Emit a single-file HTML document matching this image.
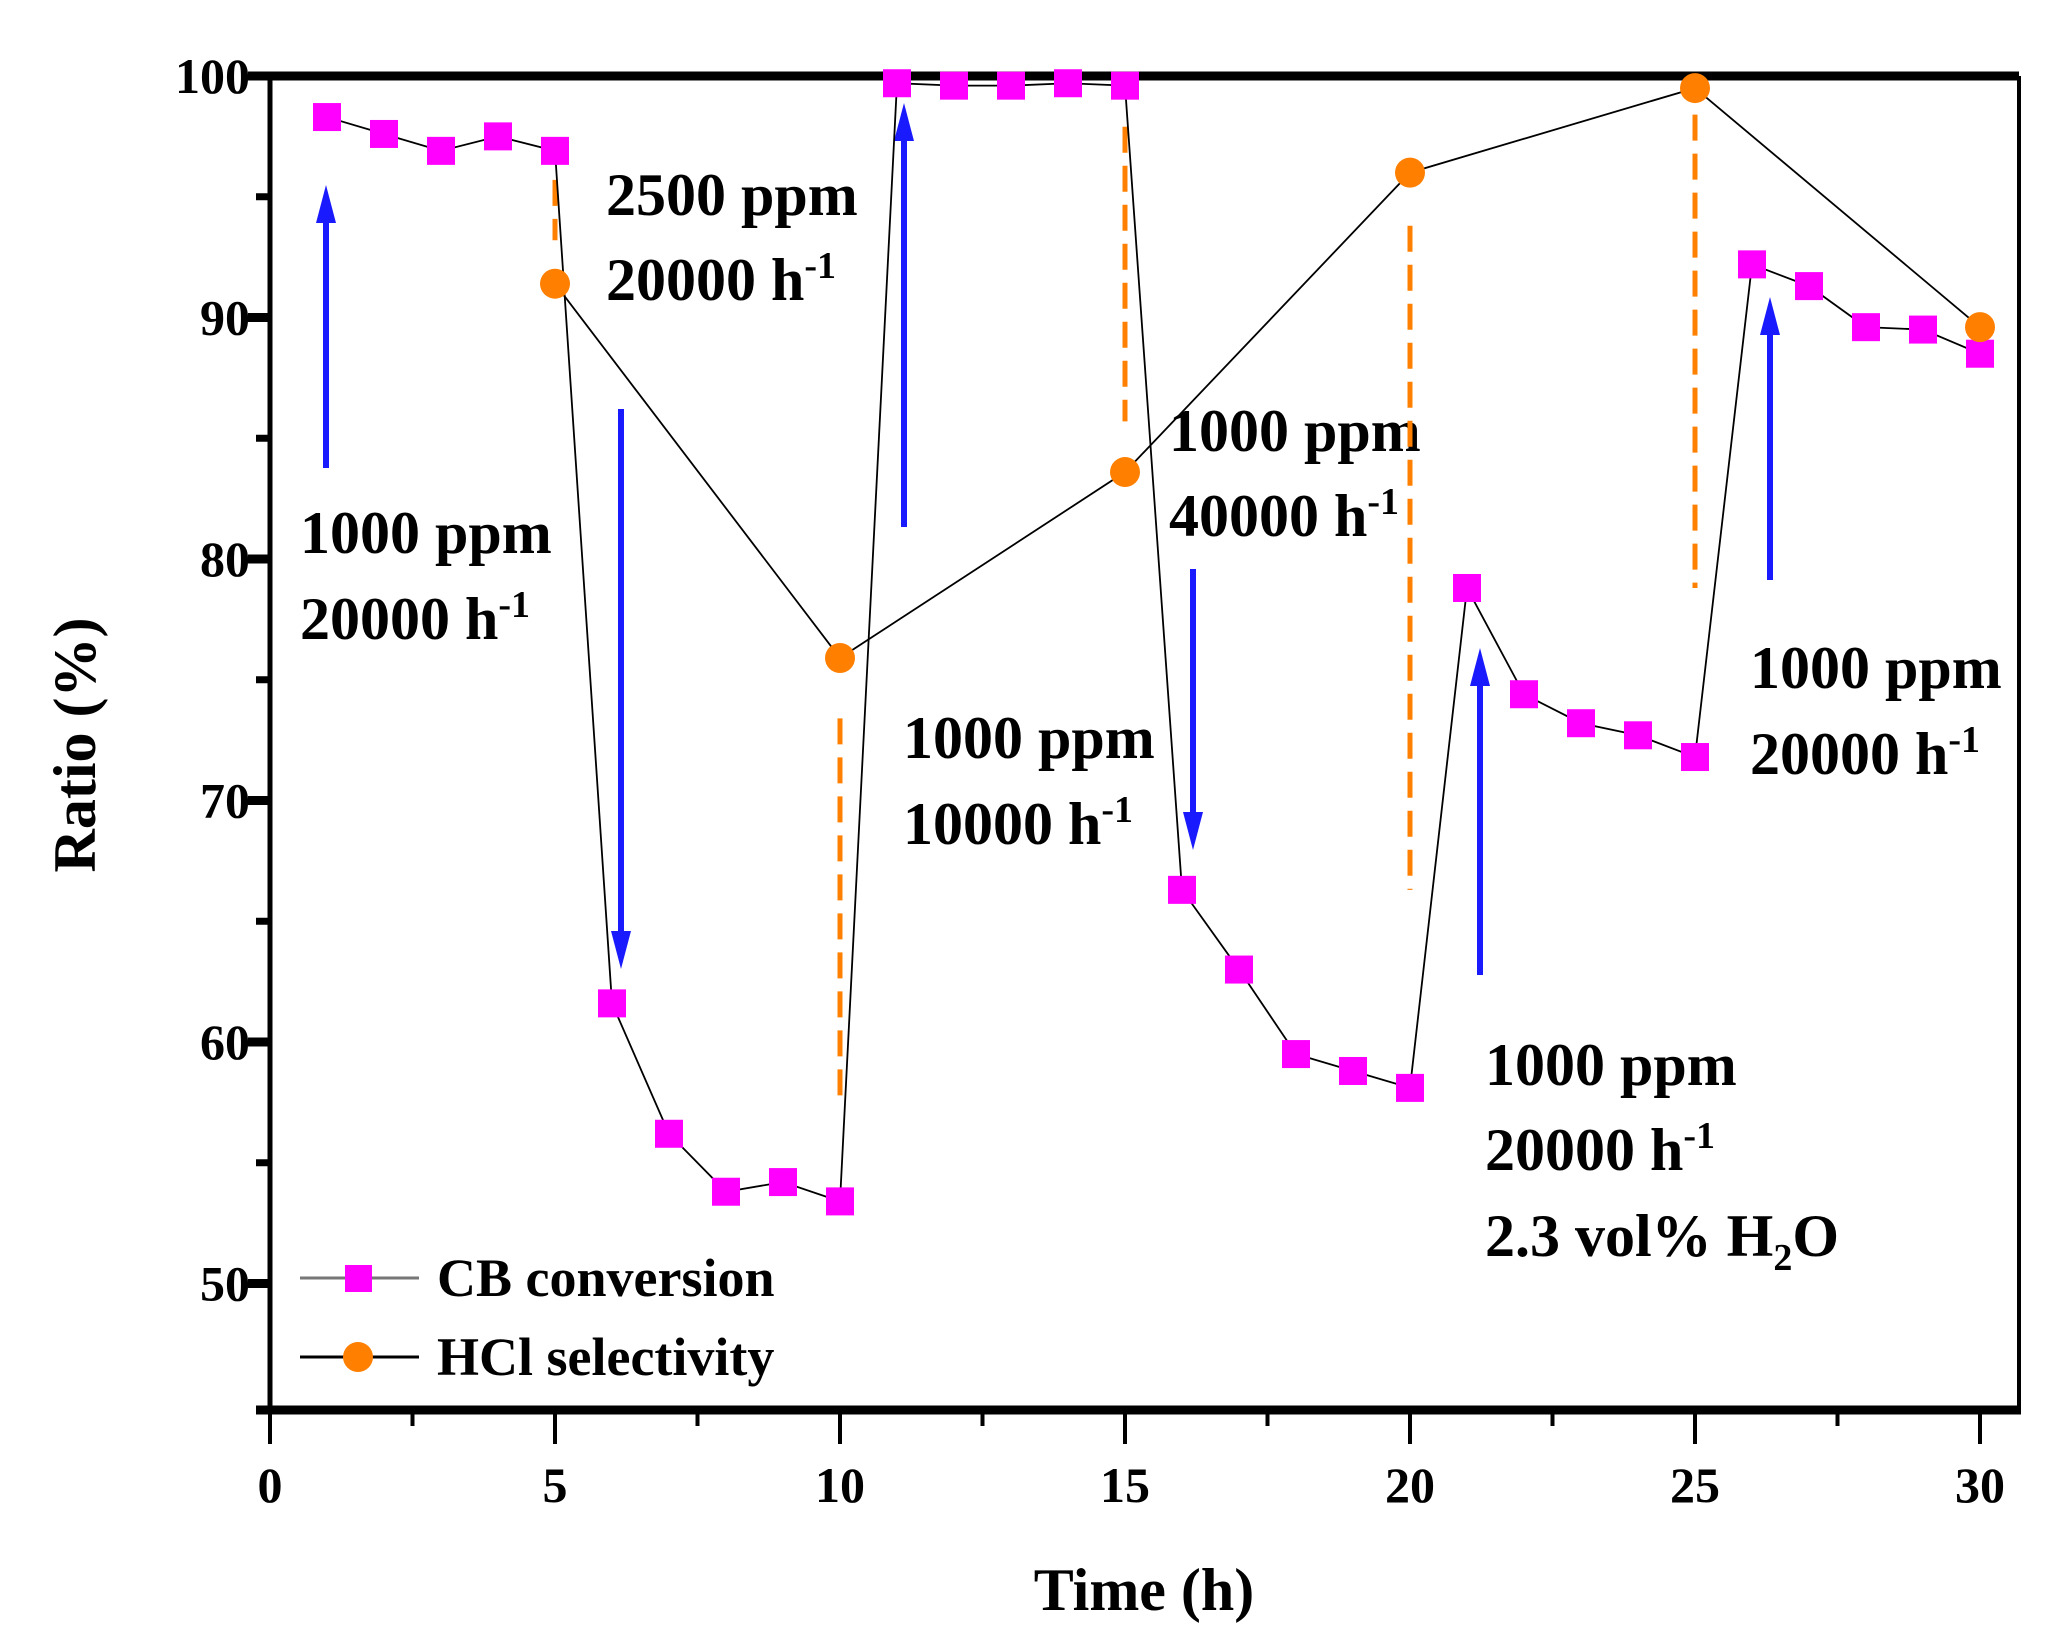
<!DOCTYPE html>
<html><head><meta charset="utf-8"><style>
html,body{margin:0;padding:0;background:#fff;}
svg{display:block;font-family:"Liberation Serif",serif;font-weight:bold;}
</style></head><body>
<svg id="chart" width="2056" height="1637" viewBox="0 0 2056 1637" xmlns="http://www.w3.org/2000/svg">
<g id="annot" font-size="60" fill="#000">
<text x="300" y="553">1000 ppm</text>
<text x="300" y="639">20000 h<tspan font-size="38" dy="-22">-1</tspan></text>
<text x="606" y="215">2500 ppm</text>
<text x="606" y="300">20000 h<tspan font-size="38" dy="-22">-1</tspan></text>
<text x="903" y="758">1000 ppm</text>
<text x="903" y="844">10000 h<tspan font-size="38" dy="-22">-1</tspan></text>
<text x="1169" y="451">1000 ppm</text>
<text x="1169" y="536">40000 h<tspan font-size="38" dy="-22">-1</tspan></text>
<text x="1750" y="688">1000 ppm</text>
<text x="1750" y="774">20000 h<tspan font-size="38" dy="-22">-1</tspan></text>
<text x="1485" y="1085">1000 ppm</text>
<text x="1485" y="1170">20000 h<tspan font-size="38" dy="-22">-1</tspan></text>
<text x="1485" y="1256">2.3 vol% H<tspan font-size="38" dy="14">2</tspan><tspan dy="-14">O</tspan></text>
</g>
<g id="axes"></g>
<g id="marks"></g>
<text x="1144" y="1610" font-size="60" text-anchor="middle">Time (h)</text>
<text transform="translate(95,745) rotate(-90)" font-size="60" text-anchor="middle">Ratio (%)</text>
<g font-size="54">
<line x1="300" y1="1278" x2="419" y2="1278" stroke="#777" stroke-width="3"/>
<rect x="345" y="1265" width="27" height="27" fill="#ff00ff"/>
<text x="437" y="1296">CB conversion</text>
<line x1="300" y1="1357" x2="419" y2="1357" stroke="#000" stroke-width="3"/>
<circle cx="358" cy="1357" r="15" fill="#ff8000"/>
<text x="437" y="1375">HCl selectivity</text>
</g>
</svg>
<script>
const cbTimes = [1,2,3,4,5,6,7,8,9,10,11,12,13,14,15,16,17,18,19,20,21,22,23,24,25,26,27,28,29,30];
const cbValues = [98.3,97.6,96.9,97.5,96.9,61.6,56.2,53.8,54.2,53.4,99.7,99.6,99.6,99.7,99.6,66.3,63.0,59.5,58.8,58.1,78.8,74.4,73.2,72.7,71.8,92.2,91.3,89.6,89.5,88.5];
const hclTimes = [5,10,15,20,25,30];
const hclValues = [91.4,75.9,83.6,96.0,99.5,89.6];
const dashTimes = [5,10,15,20,25];
const dashTop = [95.7,73.4,97.9,93.8,98.4];
const dashBottom = [93.2,57.3,85.7,66.3,78.8];
const xTickLabels = [0,5,10,15,20,25,30];
const yTickLabels = [50,60,70,80,90,100];

const NS = "http://www.w3.org/2000/svg";
const L=270,R=2019,T=76,B=1410;
function X(v){return 270+v*57.0;}
function Y(v){return 76+(100-v)*24.15;}
function mk(tag,attrs,parent){const e=document.createElementNS(NS,tag);for(const k in attrs)e.setAttribute(k,attrs[k]);parent.appendChild(e);return e;}
const axes=document.getElementById('axes'), marks=document.getElementById('marks');

let e;
e=mk('line',{x1:L,y1:T,x2:L,y2:B,stroke:'#000','stroke-width':5},axes);


e=mk('line',{x1:R,y1:T,x2:R,y2:B,stroke:'#000','stroke-width':4},axes);


e=mk('line',{x1:L-14,y1:T,x2:R,y2:T,stroke:'#000','stroke-width':9},axes);


e=mk('line',{x1:L-14,y1:B,x2:R+2,y2:B,stroke:'#000','stroke-width':9},axes);



for(let v=0; v<=30; v+=2.5){
  const major = v%5===0;
  e=mk('line',{x1:X(v),y1:B,x2:X(v),y2:B+(major?34:16),stroke:'#000','stroke-width':4},axes);
  
  
}
xTickLabels.forEach(v=>{
  e=mk('text',{x:X(v),y:1502,'font-size':50,'text-anchor':'middle'},axes);
  e.textContent=v;
  
  
});
for(let v=50; v<=100; v+=5){
  const major=v%10===0;
  e=mk('line',{x1:L,y1:Y(v),x2:L-(major?22:14),y2:Y(v),stroke:'#000','stroke-width':major?9:7},axes);
  
  
}
yTickLabels.forEach(v=>{
  e=mk('text',{x:250,y:Y(v)+17,'font-size':50,'text-anchor':'end'},axes);
  e.textContent=v;
  
  
});

dashTimes.forEach((t,i)=>{
  e=mk('line',{x1:X(t),y1:Y(dashTop[i]),x2:X(t),y2:Y(dashBottom[i]),stroke:'#ff8000','stroke-width':5,'stroke-dasharray':'26 13'},marks);
  
  
});

const arrows=[[326,468,185],[621,409,969],[904,527,103],[1193,569,850],[1480,975,648],[1770,580,297]];
arrows.forEach(a=>{
  const [x,y0,y1]=a; const dir=y1<y0?-1:1;
  e=mk('line',{x1:x,y1:y0,x2:x,y2:y1-dir*30,stroke:'#1a1aff','stroke-width':6},marks);
  
  
  e=mk('polygon',{points:`${x-10},${y1-dir*38} ${x+10},${y1-dir*38} ${x},${y1}`,fill:'#1a1aff'},marks);
  
  
});

e=mk('polyline',{points:cbTimes.map((t,i)=>X(t)+','+Y(cbValues[i])).join(' '),fill:'none',stroke:'#000','stroke-width':1.8},marks);


e=mk('polyline',{points:hclTimes.map((t,i)=>X(t)+','+Y(hclValues[i])).join(' '),fill:'none',stroke:'#000','stroke-width':1.8},marks);



cbTimes.forEach((t,i)=>{
  e=mk('rect',{x:X(t)-14,y:Y(cbValues[i])-14,width:28,height:28,fill:'#ff00ff'},marks);
  
  
});
hclTimes.forEach((t,i)=>{
  e=mk('circle',{cx:X(t),cy:Y(hclValues[i]),r:15,fill:'#ff8000'},marks);
  
  
});
</script>
</body></html>
